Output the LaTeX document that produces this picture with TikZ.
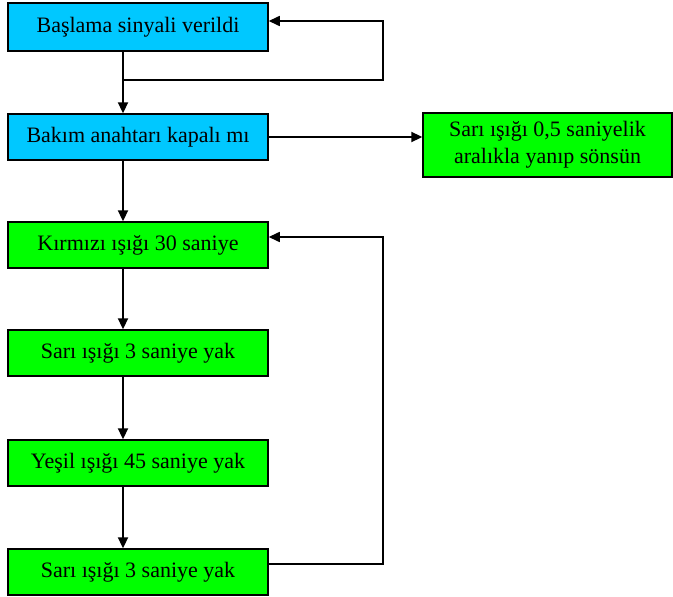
\documentclass[tikz,border=0pt]{standalone}
\usepackage{fontspec}
\setmainfont{Liberation Serif}
\usetikzlibrary{arrows.meta}
\definecolor{boxblue}{HTML}{00C8FF}
\definecolor{boxgreen}{HTML}{00FF00}
\tikzset{
  stepbox/.style={draw=black, line width=1.5pt, inner sep=0pt, align=center,
    minimum width=260pt, minimum height=46pt,
    font=\fontsize{22}{27}\selectfont},
  bluebox/.style={stepbox, fill=boxblue},
  greenbox/.style={stepbox, fill=boxgreen},
  flow/.style={line width=2.3pt, -{Triangle[length=11pt,width=10pt]}},
  loopline/.style={line width=1.6pt, -{Triangle[length=11pt,width=10pt]}}
}
\begin{document}
\begin{tikzpicture}[x=1pt,y=-1pt]
\useasboundingbox (0,0) rectangle (673,597);
% main column
\node[bluebox, minimum height=48pt] (b1) at (138,27) {Başlama sinyali verildi};
\node[bluebox] (b2) at (138,137) {Bakım anahtarı kapalı mı};
\node[greenbox] (b3) at (138,245) {Kırmızı ışığı 30 saniye};
\node[greenbox] (b4) at (138,353) {Sarı ışığı 3 saniye yak};
\node[greenbox] (b5) at (138,463) {Yeşil ışığı 45 saniye yak};
\node[greenbox] (b6) at (138,572) {Sarı ışığı 3 saniye yak};
% maintenance branch
\node[greenbox, minimum width=249pt, minimum height=64pt] (rb) at (547.5,145)
  {Sarı ışığı 0,5 saniyelik\\aralıkla yanıp sönsün};
% downward flow
\draw[flow] ([xshift=-15pt]b1.south) -- ([xshift=-15pt]b2.north);
\draw[flow] ([xshift=-15pt]b2.south) -- ([xshift=-15pt]b3.north);
\draw[flow] ([xshift=-15pt]b3.south) -- ([xshift=-15pt]b4.north);
\draw[flow] ([xshift=-15pt]b4.south) -- ([xshift=-15pt]b5.north);
\draw[flow] ([xshift=-15pt]b5.south) -- ([xshift=-15pt]b6.north);
% branch to blinking yellow
\draw[flow] (b2.east) -- (b2.east -| rb.west);
% wait loop back to start
\coordinate (j1) at (123,80);
\coordinate (r1) at (383,80);
\coordinate (t1) at (383,21);
\draw[loopline] (j1) -- (r1) -- (t1) -- (t1 -| b1.east);
% cycle loop back to red
\coordinate (s2) at ([yshift=8pt]b6.east);
\coordinate (r2) at (383,564);
\coordinate (t2) at (383,237);
\draw[loopline] (s2) -- (r2) -- (t2) -- (t2 -| b3.east);
\end{tikzpicture}
\end{document}
